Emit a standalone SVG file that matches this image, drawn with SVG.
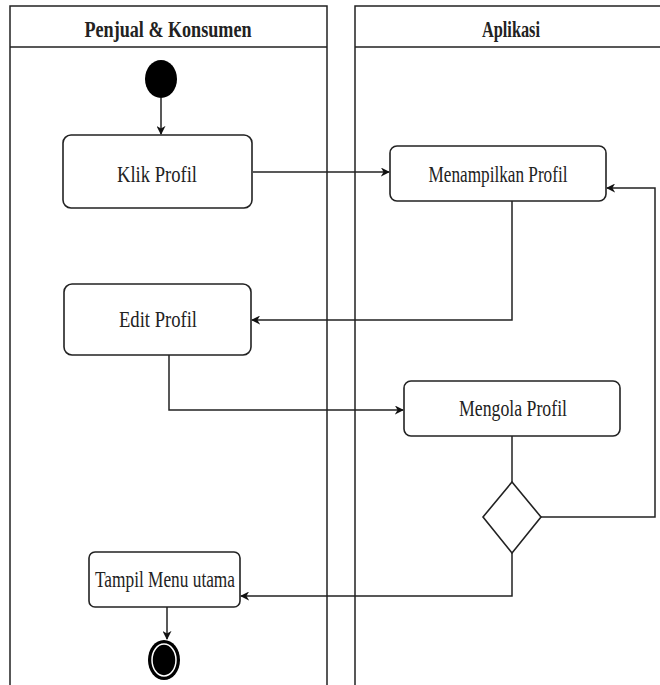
<svg xmlns="http://www.w3.org/2000/svg" width="660" height="685" viewBox="0 0 660 685">
<style>
.lane{fill:none;stroke:#222;stroke-width:1.5}
.box{fill:#fff;stroke:#222;stroke-width:1.6}
.t{font-family:"Liberation Serif","Times New Roman",serif;font-size:23px;fill:#222;text-anchor:middle}
.h{font-family:"Liberation Serif","Times New Roman",serif;font-size:24px;font-weight:bold;fill:#222;text-anchor:middle}
.c{fill:none;stroke:#222;stroke-width:1.5}
</style>
<defs>
<marker id="arr" viewBox="0 0 10 10" refX="9" refY="5" markerWidth="9" markerHeight="9" markerUnits="userSpaceOnUse" orient="auto">
<path d="M0,0 L10,5 L0,10 L3,5 Z" fill="#111"/>
</marker>
</defs>
<rect width="660" height="685" fill="#fff"/>
<g id="lane-penjual">
<path class="lane" d="M10,690 V6 H327 V690 M10,47 H327"/>
<text class="h" x="168" y="37" textLength="167" lengthAdjust="spacingAndGlyphs">Penjual &amp; Konsumen</text>
</g>
<g id="lane-aplikasi">
<path class="lane" d="M355,690 V6 H665 M355,47 H665"/>
<text class="h" x="511" y="37" textLength="58" lengthAdjust="spacingAndGlyphs">Aplikasi</text>
</g>
<g id="start">
<ellipse cx="161" cy="79" rx="16" ry="19" fill="#000"/>
</g>
<g id="klik-profil">
<rect class="box" x="63" y="135" width="189" height="73" rx="8"/>
<text class="t" x="157" y="182" textLength="80" lengthAdjust="spacingAndGlyphs">Klik Profil</text>
</g>
<g id="menampilkan-profil">
<rect class="box" x="390" y="146" width="216" height="55" rx="7"/>
<text class="t" x="498" y="182" textLength="139" lengthAdjust="spacingAndGlyphs">Menampilkan Profil</text>
</g>
<g id="edit-profil">
<rect class="box" x="64" y="284" width="187" height="71" rx="8"/>
<text class="t" x="158" y="327" textLength="78" lengthAdjust="spacingAndGlyphs">Edit Profil</text>
</g>
<g id="mengola-profil">
<rect class="box" x="404" y="381" width="216" height="55" rx="7"/>
<text class="t" x="513" y="416" textLength="108" lengthAdjust="spacingAndGlyphs">Mengola Profil</text>
</g>
<g id="decision">
<polygon class="box" points="512,482 541,517 512,553 483,517"/>
</g>
<g id="tampil-menu">
<rect class="box" x="89" y="552" width="151" height="55" rx="6"/>
<text class="t" x="165" y="587" textLength="140" lengthAdjust="spacingAndGlyphs">Tampil Menu utama</text>
</g>
<g id="end">
<ellipse cx="164" cy="660" rx="16" ry="20" fill="#000"/>
<ellipse cx="164" cy="660" rx="12" ry="16" fill="none" stroke="#fff" stroke-width="1.5"/>
</g>
<g id="connectors">
<path class="c" d="M161,98 V134" marker-end="url(#arr)"/>
<path class="c" d="M253,172 H389" marker-end="url(#arr)"/>
<path class="c" d="M512,201 V320 H252" marker-end="url(#arr)"/>
<path class="c" d="M169,355 V410 H403" marker-end="url(#arr)"/>
<path class="c" d="M512,436 V482"/>
<path class="c" d="M541,517 H655 V188 H607" marker-end="url(#arr)"/>
<path class="c" d="M512,553 V596 H241" marker-end="url(#arr)"/>
<path class="c" d="M167,607 V639" marker-end="url(#arr)"/>
</g>
</svg>
